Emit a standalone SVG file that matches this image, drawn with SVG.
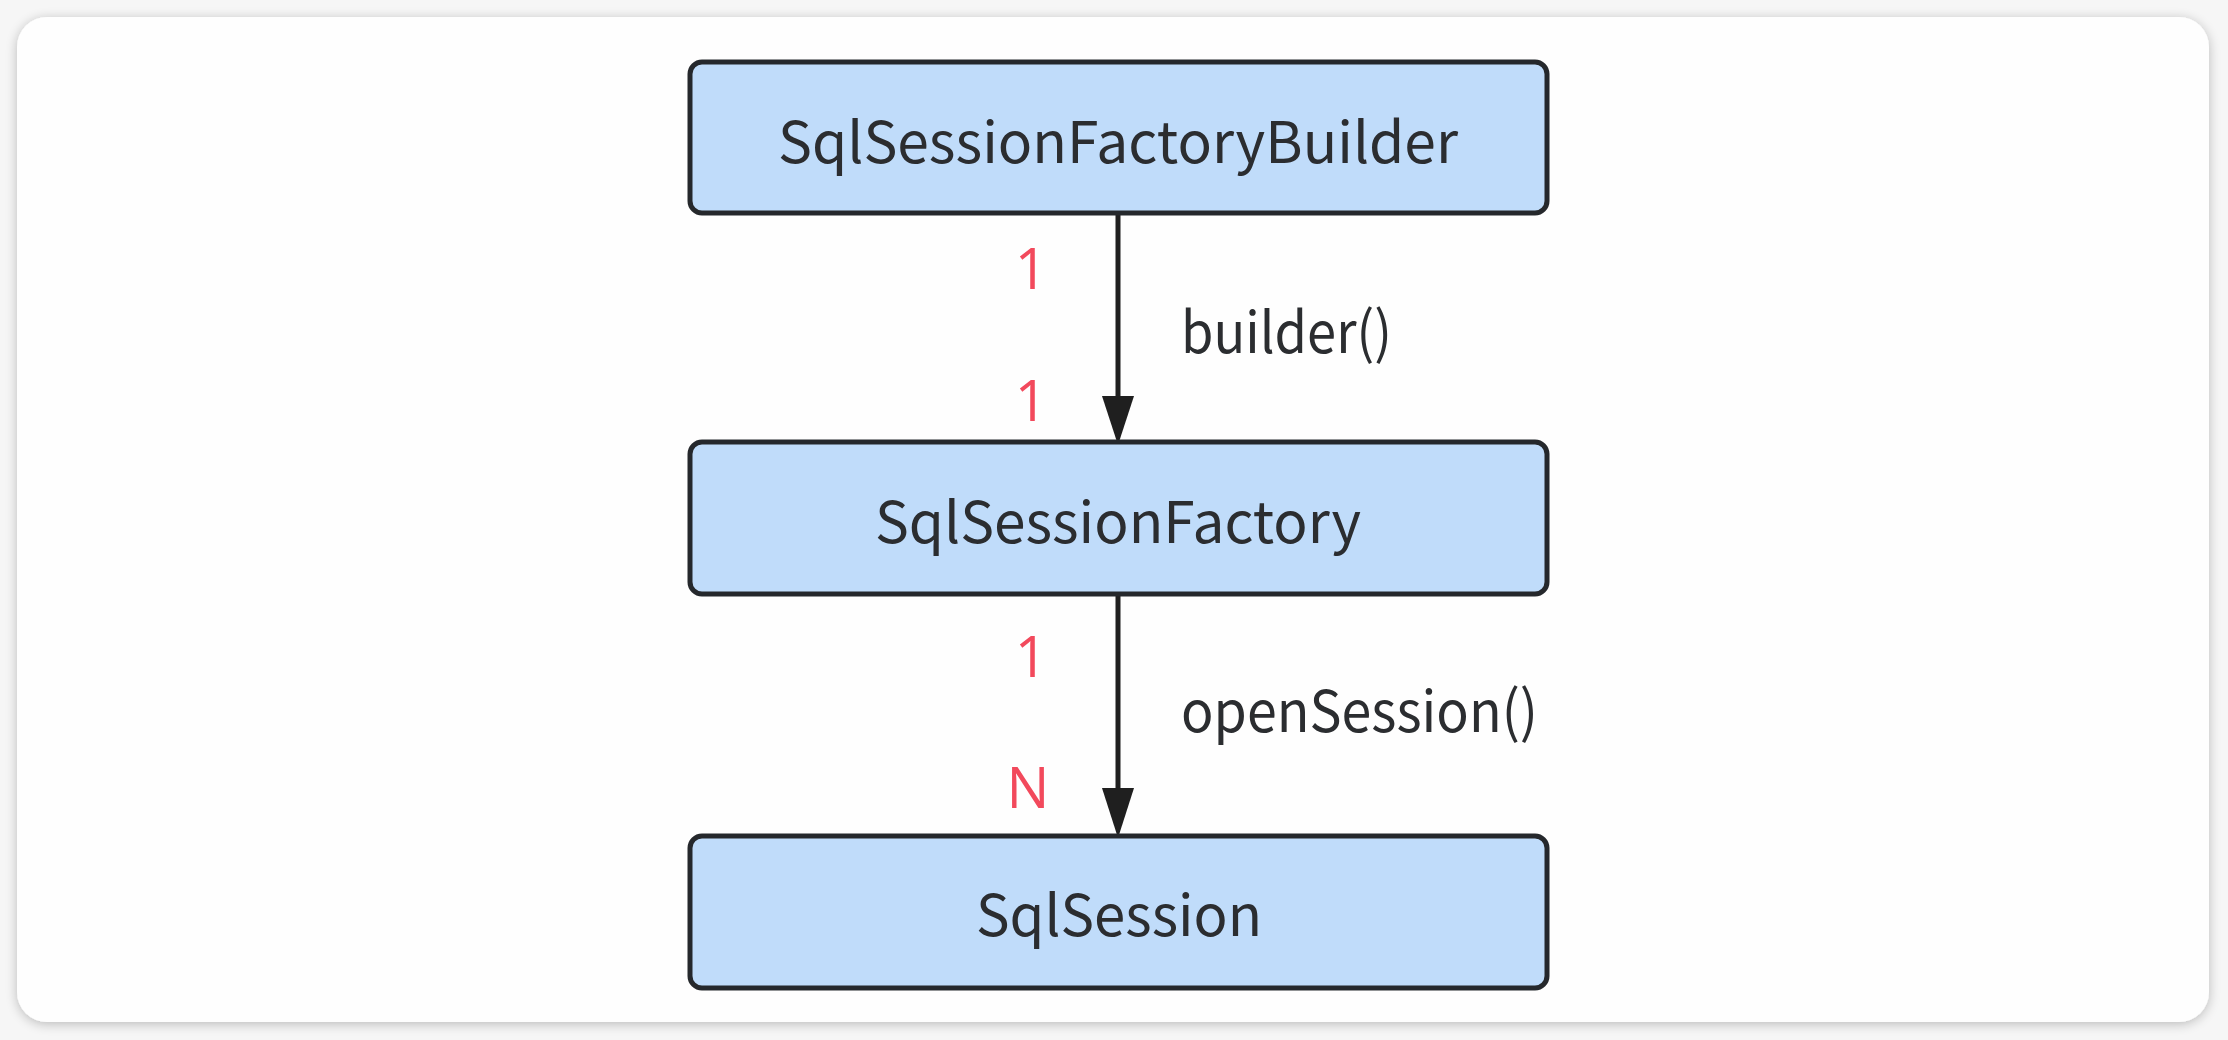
<svg xmlns="http://www.w3.org/2000/svg" width="2228" height="1040" viewBox="0 0 2228 1040">
  <style>
    .box { fill: #c0dcfa; stroke: #25282c; stroke-width: 5; }
    .ntext { font-family: "Noto Sans CJK SC", "Open Sans", sans-serif; font-size: 57px; fill: #2b2d30; text-anchor: middle; }
    .ltext { font-family: "Noto Sans CJK SC", "Open Sans", sans-serif; font-size: 57px; fill: #2b2d30; }
    .mult { font-family: "Open Sans", "Noto Sans", sans-serif; font-size: 57px; fill: #f2495c; text-anchor: middle; }
    .edge { stroke: #1f1f1f; stroke-width: 5; fill: none; }
    .head { fill: #1f1f1f; }
  </style>
  <defs>
    <filter id="shadow" x="-5%" y="-5%" width="110%" height="110%">
      <feGaussianBlur in="SourceAlpha" stdDeviation="6"/>
      <feOffset dx="0" dy="2"/>
      <feComponentTransfer><feFuncA type="linear" slope="0.25"/></feComponentTransfer>
      <feMerge><feMergeNode/><feMergeNode in="SourceGraphic"/></feMerge>
    </filter>
  </defs>
  <rect x="0" y="0" width="2228" height="1040" fill="#f6f6f6"/>
  <rect x="17" y="17" width="2192" height="1005" rx="30" ry="30" fill="#fefefe" filter="url(#shadow)"/>

  <g id="connectors">
    <g id="edge-builder">
      <path class="edge" d="M1118,213 L1118,400"/>
      <path class="head" d="M1102,396 L1134,396 L1118,445 Z"/>
      <text class="ltext" x="1181" y="353" textLength="211" lengthAdjust="spacingAndGlyphs">builder()</text>
      <text class="mult" x="1031" y="289">1</text>
      <text class="mult" x="1031" y="421">1</text>
    </g>
    <g id="edge-opensession">
      <path class="edge" d="M1118,594 L1118,792"/>
      <path class="head" d="M1102,788 L1134,788 L1118,838 Z"/>
      <text class="ltext" x="1181" y="732" textLength="357" lengthAdjust="spacingAndGlyphs">openSession()</text>
      <text class="mult" x="1031" y="677">1</text>
      <text class="mult" x="1028" y="808">N</text>
    </g>
  </g>

  <g id="node-builder">
    <rect class="box" x="690" y="62" width="857" height="151" rx="12" ry="12"/>
    <text class="ntext" x="1118" y="163" textLength="680" lengthAdjust="spacingAndGlyphs">SqlSessionFactoryBuilder</text>
  </g>
  <g id="node-factory">
    <rect class="box" x="690" y="442" width="857" height="152" rx="12" ry="12"/>
    <text class="ntext" x="1118" y="543" textLength="486" lengthAdjust="spacingAndGlyphs">SqlSessionFactory</text>
  </g>
  <g id="node-session">
    <rect class="box" x="690" y="836" width="857" height="152" rx="12" ry="12"/>
    <text class="ntext" x="1119" y="936" textLength="286" lengthAdjust="spacingAndGlyphs">SqlSession</text>
  </g>
</svg>
